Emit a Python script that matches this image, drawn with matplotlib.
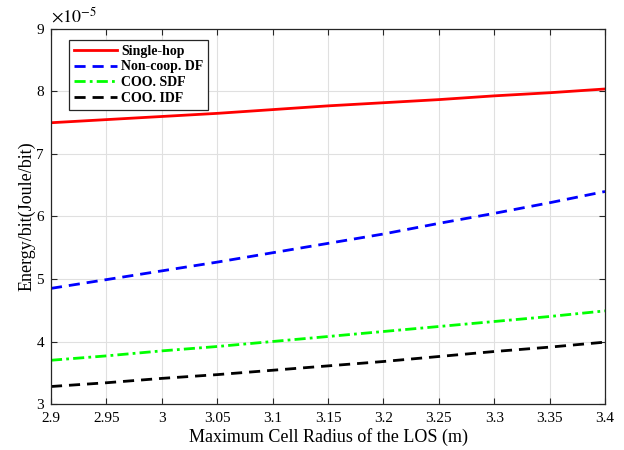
#!/usr/bin/env python

# Import numpy and matplotlib:
import numpy as np
import matplotlib
matplotlib.use("Agg")
import matplotlib.pyplot as plt

# Data (y values in units of 1e-5):
radius = [2.9, 2.95, 3.0, 3.05, 3.1, 3.15, 3.2, 3.25, 3.3, 3.35, 3.4]
single_hop = [7.50, 7.55, 7.60, 7.65, 7.71, 7.77, 7.82, 7.87, 7.93, 7.98, 8.04]
non_coop_df = [4.85, 4.99, 5.13, 5.27, 5.42, 5.57, 5.72, 5.89, 6.05, 6.22, 6.40]
coo_sdf = [3.70, 3.77, 3.85, 3.92, 4.00, 4.08, 4.16, 4.24, 4.32, 4.40, 4.49]
coo_idf = [3.28, 3.34, 3.41, 3.47, 3.54, 3.61, 3.68, 3.76, 3.84, 3.91, 3.99]

x_ticks = [2.9, 2.95, 3.0, 3.05, 3.1, 3.15, 3.2, 3.25, 3.3, 3.35, 3.4]
x_ticklabels = ["2.9", "2.95", "3", "3.05", "3.1", "3.15", "3.2", "3.25", "3.3", "3.35", "3.4"]
y_ticks = [3, 4, 5, 6, 7, 8, 9]

# Times-like serif font as in MATLAB figures:
plt.rcParams["font.family"] = ["Liberation Serif", "DejaVu Serif"]
plt.rcParams["mathtext.fontset"] = "stix"

fig = plt.figure(figsize=(6.24, 4.5), dpi=100)
ax = fig.add_axes([0.0817, 0.1022, 0.8879, 0.8334])

# Plot the four series:
ax.plot(radius, single_hop, color="#ff0000", lw=2, ls="-", label="Single-hop")
ax.plot(radius, non_coop_df, color="#0000ff", lw=2, ls=(0, (4, 2.5)), label="Non-coop. DF")
ax.plot(radius, coo_sdf, color="#00ff00", lw=2, ls=(0, (4, 1.5, 1, 1.5)), label="COO. SDF")
ax.plot(radius, coo_idf, color="#000000", lw=2, ls=(0, (4, 2.5)), label="COO. IDF")

# Axes styling:
ax.set_xlim(2.9, 3.4)
ax.set_ylim(3, 9)
ax.set_xticks(x_ticks)
ax.set_xticklabels(x_ticklabels)
ax.set_yticks(y_ticks)
ax.tick_params(direction="in", top=True, right=True, labelsize=11, length=4, color="#262626")
ax.tick_params(axis="x", pad=6)
ax.tick_params(axis="y", pad=5)
ax.grid(True, color="#e0e0e0", lw=0.8)
ax.set_axisbelow(True)
for spine in ax.spines.values():
    spine.set_color("#262626")
    spine.set_linewidth(0.9)

ax.set_xlabel("Maximum Cell Radius of the LOS (m)", fontsize=13, labelpad=2)
ax.set_ylabel("Energy/bit(Joule/bit)", fontsize=13, labelpad=1)

# Exponent label at the top left:
ax.text(0.0, 1.008, r"$\times10^{-5}$", transform=ax.transAxes, fontsize=13, ha="left", va="bottom")

# Legend:
leg = ax.legend(loc="upper left", bbox_to_anchor=(0.0325, 0.971), borderaxespad=0,
                fancybox=False, edgecolor="#262626", framealpha=1, handlelength=3.1,
                handletextpad=0.3, borderpad=0.35, labelspacing=0.2,
                prop={"weight": "bold", "size": 10})
leg.get_frame().set_linewidth(0.9)

plt.savefig("out.png", dpi=100)
